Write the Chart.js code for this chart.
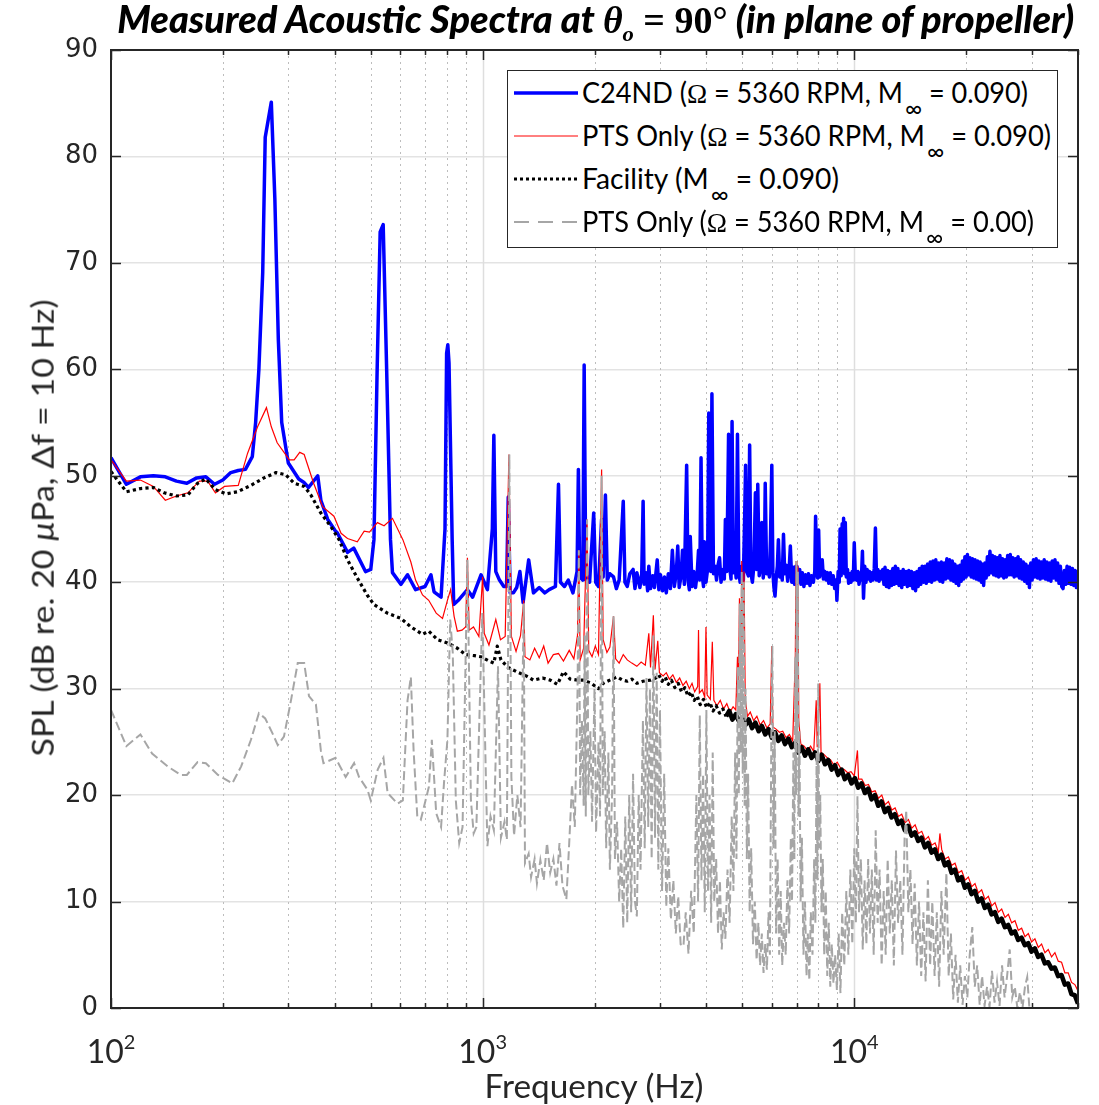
<!DOCTYPE html>
<html>
<head>
<meta charset="utf-8">
<title>Measured Acoustic Spectra</title>
<script src="https://cdn.jsdelivr.net/npm/chart.js@4.4.1/dist/chart.umd.min.js"></script>
<style>
  html, body { margin: 0; padding: 0; background: #fff; }
  #wrap { position: relative; width: 1099px; height: 1105px; overflow: hidden; background: #fff; }
  #chart { position: absolute; left: 0; top: 0; }
  .txt { position: absolute; white-space: nowrap; color: #262626; font-family: Lato, Carlito, "Open Sans", sans-serif; }
  #title { top: 1px; font-size: 37px; line-height: 36px; font-weight: 900; font-style: italic; color: #000; }
  #title .math { font-family: "Liberation Serif", "DejaVu Serif", serif; }
  #title .math i { font-weight: bold; }
  #title .math .eq { font-style: normal; font-weight: bold; }
  #title sub { font-size: 22px; line-height: 0; vertical-align: -8px; }
  #xlab { top: 1070px; font-size: 32px; line-height: 32px; }
  #ylab { font-size: 31px; line-height: 30px; }
  .xt { top: 1035px; font-size: 32px; line-height: 32px; }
  .xt sup { font-size: 20px; line-height: 0; vertical-align: 14px; }
  #legend { position: absolute; left: 507px; top: 70px; width: 551px; height: 178px; box-sizing: border-box;
            border: 1px solid #262626; background: #fff; }
  #legend svg { position: absolute; left: 0; top: 0; }
  #legend .lt { left: 74px; font-size: 28px; line-height: 28px; color: #000; }
  #legend .lt sub { font-size: 24px; line-height: 0; vertical-align: -14px; margin-left: 2px; }
  .om { font-family: "Liberation Serif", "DejaVu Serif", serif; }
</style>
</head>
<body>
<div id="wrap">
  <canvas id="chart" width="1099" height="1105" style="width:1099px;height:1105px"></canvas>
  <div id="title" class="txt">Measured Acoustic Spectra at <span class="math"><i>θ</i><sub><i>o</i></sub> <span class="eq">= 90°</span></span> (in plane of propeller)</div>
  <div id="ylab" class="txt">SPL (dB re. 20 <i>μ</i>Pa, Δf = 10 Hz)</div>
  <div id="xlab" class="txt">Frequency (Hz)</div>
  <div id="legend">
    <svg width="551" height="178">
      <line x1="6" y1="22" x2="70" y2="22" stroke="#0000ff" stroke-width="3.5"/>
      <line x1="6" y1="65" x2="70" y2="65" stroke="#ff0000" stroke-width="1"/>
      <line x1="6" y1="108" x2="70" y2="108" stroke="#000" stroke-width="3" stroke-dasharray="3 3"/>
      <line x1="6" y1="151" x2="70" y2="151" stroke="#a6a6a6" stroke-width="2" stroke-dasharray="15 9"/>
    </svg>
    <div class="txt lt" style="top:7px" data-w="446">C24ND (<span class="om">Ω</span> = 5360 RPM, M<sub>∞</sub> = 0.090)</div>
    <div class="txt lt" style="top:50px" data-w="469">PTS Only (<span class="om">Ω</span> = 5360 RPM, M<sub>∞</sub> = 0.090)</div>
    <div class="txt lt" style="top:93px" data-w="257">Facility (M<sub>∞</sub> = 0.090)</div>
    <div class="txt lt" style="top:136px" data-w="452">PTS Only (<span class="om">Ω</span> = 5360 RPM, M<sub>∞</sub> = 0.00)</div>
  </div>
</div>
<script>
// --- data (frequency in Hz, SPL in dB) ---

// C24ND (rotor + PTS), M = 0.090
const c24ndHz = [
  100, 110, 120, 130, 140, 150, 160, 170, 180, 190,
  200, 210, 220, 230, 240, 245, 250, 256, 260, 270,
  276, 282, 288, 300, 320, 330, 340, 360, 367, 383,
  400, 407, 433, 450, 484, 500, 510, 520, 530, 540,
  552, 565, 572, 603, 628, 660, 700, 726, 740, 773,
  792, 800, 806, 812, 828, 836, 860, 910, 940, 990,
  1030, 1062, 1072, 1085, 1110, 1140, 1160, 1172, 1186, 1210,
  1235, 1260, 1285, 1330, 1370, 1420, 1470, 1510, 1570, 1600,
  1620, 1660, 1700, 1750, 1795, 1810, 1825, 1860, 1876, 1895,
  1940, 1990, 2015, 2050, 2090, 2110, 2140, 2165, 2200, 2250,
  2290, 2330, 2390, 2415, 2450, 2490, 2540, 2570, 2600, 2650,
  2680, 2703, 2720, 2750, 2780, 2800, 2830, 2870, 2900, 2950,
  2980, 3010, 3050, 3085, 3120, 3160, 3200, 3240, 3280, 3320,
  3350, 3380, 3420, 3450, 3490, 3540, 3570, 3600, 3620, 3660,
  3700, 3740, 3780, 3810, 3840, 3870, 3900, 3930, 3950, 3990,
  4030, 4060, 4090, 4110, 4140, 4180, 4220, 4260, 4300, 4340,
  4380, 4430, 4470, 4500, 4540, 4590, 4620, 4660, 4690, 4730,
  4770, 4810, 4850, 4890, 4930, 4980, 5030, 5070, 5100, 5140,
  5190, 5230, 5270, 5320, 5370, 5420, 5460, 5500, 5550, 5600,
  5640, 5690, 5730, 5760, 5810, 5860, 5910, 5950, 6000, 6040,
  6080, 6120, 6170, 6210, 6250, 6300, 6350, 6400, 6450, 6500,
  6560, 6620, 6680, 6730, 6790, 6850, 6910, 6960, 7010, 7070,
  7130, 7190, 7250, 7320, 7390, 7460, 7530, 7600, 7680, 7760,
  7830, 7870, 7920, 7970, 8020, 8070, 8130, 8200, 8260, 8330,
  8400, 8470, 8540, 8620, 8700, 8780, 8860, 8940, 8980, 9050,
  9110, 9160, 9220, 9280, 9330, 9360, 9420, 9460, 9520, 9590,
  9660, 9730, 9800, 9870, 9940, 10000, 10070, 10150, 10230, 10300,
  10380, 10450, 10520, 10590, 10670, 10750, 10830, 10910, 10990, 11070,
  11150, 11230, 11320, 11400, 11480, 11570, 11660, 11750, 11840, 11930,
  12020, 12100, 12200, 12300, 12400, 12500, 12600, 12700, 12800, 12900,
  13000, 13100, 13200, 13300, 13420, 13540, 13660, 13780, 13900, 14020,
  14140, 14260, 14380, 14500, 14620, 14740, 14860, 14980, 15100, 15230,
  15360, 15490, 15620, 15750, 15880, 16010, 16150, 16290, 16430, 16570,
  16710, 16850, 17000, 17150, 17300, 17450, 17600, 17750, 17900, 18050,
  18200, 18350, 18500, 18650, 18800, 18950, 19100, 19250, 19400, 19550,
  19700, 19850, 20000, 20160, 20320, 20480, 20640, 20800, 20960, 21130,
  21300, 21470, 21640, 21810, 21980, 22150, 22290, 22460, 22640, 22820,
  23000, 23180, 23360, 23540, 23720, 23900, 24080, 24270, 24460, 24660,
  24860, 25060, 25260, 25460, 25660, 25870, 26080, 26290, 26500, 26710,
  26930, 27150, 27370, 27590, 27810, 28040, 28270, 28500, 28730, 28960,
  29200, 29440, 29600, 29850, 30100, 30350, 30600, 30860, 31120, 31380,
  31640, 31900, 32170, 32440, 32710, 32980, 33260, 33540, 33820, 34100,
  34390, 34680, 34970, 35260, 35560, 35860, 36160, 36460, 36760, 37070,
  37380, 37690, 38000, 38320, 38640, 38960, 39280, 39600, 39800, 40000
];
const c24ndDb = [
  51.7, 49.2, 49.9, 50.0, 49.9, 49.5, 49.3, 49.8, 49.9, 49.2,
  49.6, 50.3, 50.5, 50.6, 51.8, 55.0, 60.0, 69.1, 81.8, 85.1,
  76.0, 62.8, 55.0, 51.2, 49.7, 49.4, 48.9, 50.0, 47.7, 45.9,
  44.9, 44.6, 42.8, 43.2, 41.0, 41.2, 44.0, 59.7, 72.9, 73.6,
  59.7, 44.0, 40.9, 39.8, 40.7, 39.3, 39.6, 40.7, 39.1, 38.6,
  45.0, 61.5, 62.3, 60.6, 44.0, 37.9, 38.3, 39.3, 38.6, 40.7,
  39.3, 45.0, 53.8, 41.0, 40.2, 39.6, 39.6, 48.0, 39.0, 39.0,
  39.5, 41.0, 38.1, 42.1, 39.0, 39.5, 39.0, 39.3, 39.6, 49.2,
  40.0, 39.6, 40.2, 39.0, 41.0, 50.6, 40.5, 40.2, 60.4, 40.2,
  40.0, 46.5, 40.0, 39.6, 45.9, 40.5, 48.2, 40.2, 40.8, 40.5,
  39.4, 40.2, 47.6, 40.0, 39.6, 40.8, 41.2, 39.4, 40.9, 39.5,
  40.8, 47.6, 39.8, 40.9, 39.2, 41.5, 39.4, 40.6, 39.5, 42.1,
  39.3, 40.7, 39.2, 40.5, 39.0, 40.8, 39.4, 43.0, 39.6, 40.9,
  43.4, 39.5, 40.6, 43.0, 39.8, 51.0, 40.2, 39.3, 44.3, 39.6,
  41.0, 39.5, 40.9, 43.0, 40.2, 51.7, 40.6, 39.6, 43.8, 40.0,
  41.2, 55.9, 44.0, 41.0, 57.7, 40.8, 41.5, 40.2, 41.6, 42.3,
  40.0, 41.2, 40.3, 45.9, 41.0, 53.9, 41.5, 40.3, 55.1, 40.9,
  42.0, 40.4, 53.9, 41.0, 40.0, 41.5, 40.2, 46.0, 51.0, 41.0,
  40.6, 52.9, 40.9, 40.0, 41.6, 48.4, 41.2, 49.2, 40.6, 41.5,
  45.6, 40.4, 41.6, 49.3, 40.8, 41.8, 40.5, 44.0, 51.0, 40.9,
  39.5, 38.7, 40.6, 41.5, 44.0, 40.5, 41.3, 40.2, 44.5, 40.8,
  41.6, 40.1, 41.2, 43.4, 40.0, 41.4, 39.8, 41.5, 41.5, 40.0,
  41.2, 39.8, 40.9, 39.6, 40.7, 39.9, 40.8, 39.7, 40.6, 40.0,
  41.0, 46.2, 41.5, 40.4, 44.9, 40.5, 41.8, 42.1, 40.3, 41.0,
  40.2, 40.9, 39.9, 40.9, 39.8, 40.6, 39.4, 40.2, 38.3, 41.0,
  40.0, 45.0, 40.6, 45.5, 41.0, 46.0, 40.8, 45.6, 40.5, 41.2,
  39.9, 40.8, 40.0, 41.0, 40.2, 43.7, 40.4, 40.2, 41.0, 39.8,
  40.9, 40.2, 42.9, 38.5, 41.5, 40.0, 41.2, 40.3, 41.0, 40.1,
  40.9, 40.2, 41.3, 45.1, 40.2, 41.2, 40.1, 41.0, 40.3, 41.2,
  39.8, 41.4, 39.6, 41.1, 39.5, 41.0, 39.7, 41.3, 39.8, 41.5,
  39.9, 41.3, 39.7, 41.0, 39.5, 41.2, 39.8, 41.0, 39.6, 41.1,
  39.7, 41.0, 39.4, 40.9, 39.2, 41.0, 39.6, 41.3, 39.8, 41.5,
  40.0, 41.5, 39.9, 41.7, 40.1, 41.9, 40.0, 42.0, 40.2, 42.1,
  40.3, 41.8, 40.1, 41.9, 40.0, 41.8, 40.3, 42.2, 40.4, 42.1,
  40.2, 42.0, 40.1, 41.7, 39.9, 41.5, 39.7, 41.6, 40.1, 42.0,
  40.3, 42.4, 40.5, 42.6, 40.7, 42.3, 40.5, 42.2, 40.4, 42.1,
  40.3, 42.0, 40.2, 41.9, 40.0, 41.7, 39.7, 41.8, 40.4, 42.4,
  40.7, 42.9, 40.9, 42.5, 40.7, 42.4, 40.6, 42.3, 40.5, 42.5,
  40.6, 42.2, 40.4, 42.1, 40.5, 42.5, 40.7, 42.6, 40.7, 42.3,
  40.5, 42.2, 40.6, 42.4, 40.4, 42.1, 40.3, 41.9, 40.1, 41.7,
  39.9, 41.5, 39.5, 41.8, 40.2, 42.1, 40.5, 42.2, 40.4, 42.0,
  40.3, 41.9, 40.4, 42.1, 40.3, 41.9, 40.2, 41.8, 40.1, 42.0,
  40.4, 42.1, 40.2, 41.8, 39.9, 41.5, 39.6, 39.4, 41.1, 39.8,
  41.5, 39.9, 41.4, 39.8, 41.3, 39.7, 41.1, 39.5, 41.0, 40.3
];

// PTS only, M = 0.090
const ptsWindHz = [
  100, 110, 120, 130, 140, 150, 161, 173, 182, 191,
  202, 220, 233, 248, 262, 270, 280, 302, 311, 322,
  331, 351, 371, 398, 416, 433, 460, 480, 496, 521,
  543, 572, 610, 641, 660, 689, 716, 750, 780, 804,
  820, 838, 855, 880, 900, 910, 920, 945, 977, 1000,
  1010, 1040, 1085, 1117, 1150, 1177, 1195, 1230, 1265, 1290,
  1300, 1340, 1380, 1420, 1460, 1500, 1550, 1600, 1650, 1710,
  1760, 1800, 1815, 1830, 1870, 1910, 1930, 1970, 2010, 2050,
  2090, 2110, 2160, 2200, 2250, 2280, 2330, 2390, 2450, 2520,
  2600, 2670, 2740, 2800, 2830, 2880, 2910, 2960, 2990, 3060,
  3120, 3180, 3250, 3320, 3390, 3460, 3530, 3600, 3660, 3720,
  3790, 3810, 3830, 3900, 3960, 3990, 4020, 4100, 4150, 4190,
  4270, 4360, 4450, 4540, 4630, 4720, 4800, 4850, 4880, 4910,
  4950, 4980, 5010, 5050, 5090, 5160, 5250, 5360, 5470, 5580,
  5700, 5820, 5940, 6000, 6040, 6160, 6290, 6420, 6550, 6690,
  6830, 6940, 6975, 7010, 7050, 7090, 7180, 7330, 7480, 7630,
  7780, 7900, 7950, 8020, 8080, 8140, 8300, 8460, 8640, 8820,
  9000, 9200, 9400, 9600, 9800, 10000, 10200, 10270, 10480, 10700,
  10920, 11150, 11380, 11620, 11860, 12100, 12360, 12620, 12880, 13150,
  13420, 13700, 13990, 14280, 14580, 14880, 15190, 15510, 15830, 16160,
  16500, 16840, 17000, 17190, 17550, 17920, 18290, 18670, 19060, 19460,
  19870, 20280, 20700, 21130, 21570, 22020, 22480, 22950, 23430, 23920,
  24420, 24930, 25450, 25980, 26520, 27070, 27630, 28210, 28800, 29400,
  30010, 30630, 31270, 31920, 32590, 33270, 33960, 34670, 35390, 36130,
  36880, 37650, 38430, 39230, 40000
];
const ptsWindDb = [
  51.5, 49.5, 49.6, 49.0, 47.7, 48.1, 48.4, 49.5, 49.5, 48.4,
  49.0, 49.1, 52.1, 54.6, 56.4, 54.6, 53.1, 51.5, 51.5, 52.2,
  52.0, 49.3, 47.1, 46.2, 44.6, 44.1, 43.8, 44.8, 44.7, 45.6,
  45.3, 46.0, 44.0, 41.9, 40.2, 38.8, 38.3, 37.1, 36.6, 38.3,
  39.3, 36.8, 35.4, 35.5, 35.8, 42.3, 35.5, 35.8, 34.9, 40.5,
  35.2, 34.1, 36.5, 34.6, 34.9, 52.0, 34.9, 33.5, 35.0, 38.3,
  33.0, 32.7, 33.8, 32.9, 34.0, 32.4, 33.2, 33.3, 32.6, 33.6,
  32.8, 35.0, 43.0, 32.7, 33.8, 45.9, 33.6, 33.0, 34.0, 33.2,
  50.6, 34.6, 33.4, 33.9, 36.8, 32.8, 32.4, 33.2, 32.7, 32.4,
  32.1, 32.5, 32.2, 35.2, 32.0, 36.9, 31.8, 34.5, 31.5, 31.2,
  31.5, 30.9, 31.3, 30.6, 31.0, 30.3, 30.7, 30.0, 30.5, 29.7,
  30.2, 35.5, 29.6, 29.9, 29.2, 35.8, 29.4, 29.0, 34.4, 28.9,
  28.4, 28.9, 28.1, 28.6, 27.8, 28.3, 28.0, 33.0, 30.0, 38.5,
  31.0, 42.0, 34.0, 41.0, 29.0, 27.4, 27.8, 27.0, 27.4, 26.6,
  27.0, 26.3, 26.7, 34.0, 26.4, 26.2, 25.9, 26.0, 25.4, 25.7,
  25.1, 33.0, 42.0, 30.0, 41.5, 27.0, 24.8, 24.6, 24.2, 24.6,
  24.1, 28.9, 24.5, 27.5, 30.5, 24.0, 23.8, 23.5, 23.3, 22.8,
  23.1, 22.5, 22.4, 22.1, 22.2, 21.8, 24.2, 21.5, 21.5, 20.9,
  21.0, 20.3, 20.4, 19.7, 20.0, 19.1, 19.4, 18.6, 18.8, 18.0,
  18.2, 17.4, 17.7, 16.9, 17.2, 16.4, 16.6, 15.8, 16.1, 15.3,
  15.5, 14.7, 16.4, 14.9, 14.0, 14.2, 13.4, 13.6, 12.7, 12.9,
  12.0, 12.3, 11.4, 11.7, 10.8, 11.1, 10.2, 10.5, 9.6, 9.9,
  9.0, 9.3, 8.5, 8.8, 8.0, 8.2, 7.3, 7.5, 6.7, 7.0,
  6.2, 6.5, 5.7, 6.0, 5.2, 5.5, 4.8, 5.2, 4.4, 4.3,
  3.3, 3.3, 2.4, 2.2, 1.6
];

// Facility background, M = 0.090
const facilityHz = [
  100, 104, 110, 120, 130, 139, 150, 161, 171, 180,
  191, 204, 219, 238, 258, 278, 295, 311, 331, 345,
  367, 391, 411, 433, 460, 489, 510, 554, 603, 641,
  689, 716, 757, 804, 855, 900, 950, 988, 1040, 1072,
  1095, 1120, 1170, 1250, 1310, 1370, 1450, 1520, 1590, 1650,
  1720, 1800, 1870, 1960, 2050, 2110, 2165, 2230, 2300, 2380,
  2450, 2520, 2600, 2700, 2830, 2920, 2980, 3040, 3100, 3160,
  3220, 3290, 3360, 3430, 3500, 3570, 3640, 3710, 3780, 3850,
  3930, 4010, 4090, 4170, 4250, 4340, 4430, 4520, 4610, 4700,
  4800, 4900, 5000, 5100, 5200, 5310, 5420, 5530, 5640, 5760,
  5880, 6000, 6120, 6250, 6380, 6510, 6650, 6790, 6930, 7070,
  7220, 7370, 7520, 7680, 7840, 8000, 8170, 8340, 8510, 8690,
  8870, 9050, 9240, 9430, 9630, 9830, 10040, 10250, 10460, 10680,
  10900, 11130, 11360, 11600, 11840, 12090, 12340, 12600, 12860, 13130,
  13400, 13680, 13970, 14260, 14560, 14860, 15170, 15490, 15810, 16140,
  16480, 16820, 17170, 17530, 17900, 18270, 18650, 19040, 19440, 19850,
  20260, 20680, 21110, 21550, 22000, 22460, 22930, 23410, 23900, 24400,
  24910, 25430, 25960, 26500, 27050, 27610, 28190, 28780, 29380, 29990,
  30610, 31250, 31900, 32570, 33250, 33940, 34650, 35370, 36110, 36860,
  37630, 38410, 39210, 40000
];
const facilityDb = [
  50.4, 49.6, 48.5, 48.8, 48.9, 48.4, 48.1, 48.2, 49.3, 49.7,
  48.7, 48.3, 48.5, 49.1, 49.8, 50.3, 50.1, 49.3, 49.0, 48.2,
  46.5, 45.2, 44.0, 42.1, 40.4, 38.8, 37.9, 37.1, 36.6, 35.8,
  35.1, 35.4, 34.6, 34.3, 33.8, 33.2, 33.1, 33.0, 32.6, 32.4,
  34.0, 32.7, 32.0, 31.5, 31.2, 30.8, 31.0, 30.8, 30.4, 31.6,
  30.9, 30.8, 30.8, 30.5, 30.0, 30.5, 30.7, 30.9, 31.1, 30.8,
  30.7, 30.9, 30.5, 30.7, 30.8, 31.0, 31.3, 30.7, 31.1, 30.4,
  30.8, 30.1, 30.5, 29.7, 30.1, 29.3, 29.7, 28.9, 29.3, 28.5,
  29.0, 28.2, 28.7, 27.9, 28.4, 27.7, 28.1, 27.4, 27.9, 27.1,
  27.6, 26.9, 27.3, 26.6, 27.1, 26.3, 26.8, 26.0, 26.5, 25.7,
  26.2, 25.4, 25.9, 25.1, 25.6, 24.8, 25.3, 24.5, 24.9, 24.0,
  24.5, 23.7, 24.3, 23.5, 24.0, 23.2, 23.8, 22.9, 23.3, 22.4,
  22.8, 21.9, 22.4, 21.5, 21.9, 21.1, 21.6, 20.7, 21.1, 20.2,
  20.6, 19.6, 20.0, 19.0, 19.4, 18.4, 18.8, 17.9, 18.2, 17.3,
  17.6, 16.7, 17.1, 16.2, 16.5, 15.7, 16.0, 15.1, 15.5, 14.6,
  14.9, 14.0, 14.4, 13.4, 13.7, 12.7, 13.0, 12.0, 12.3, 11.3,
  11.6, 10.7, 11.0, 10.0, 10.3, 9.4, 9.7, 8.8, 9.0, 8.1,
  8.4, 7.6, 7.8, 7.0, 7.2, 6.4, 6.6, 5.9, 6.1, 5.3,
  5.6, 4.8, 5.0, 4.2, 4.3, 3.7, 3.8, 3.0, 3.1, 2.2,
  2.3, 1.3, 1.2, 0.4
];

// PTS only, M = 0.00 (static)
const ptsStaticHz = [
  100, 110, 120, 129, 142, 154, 160, 171, 180, 194,
  212, 224, 238, 250, 260, 272, 281, 292, 305, 318,
  331, 341, 356, 367, 373, 402, 428, 451, 465, 490,
  500, 522, 541, 555, 590, 610, 628, 641, 652, 667,
  682, 717, 730, 750, 773, 787, 804, 818, 831, 847,
  865, 883, 910, 930, 946, 962, 998, 1030, 1050, 1072,
  1100, 1120, 1145, 1162, 1180, 1195, 1215, 1240, 1265, 1290,
  1300, 1330, 1350, 1380, 1400, 1430, 1460, 1490, 1520, 1550,
  1580, 1610, 1640, 1680, 1710, 1740, 1770, 1800, 1815, 1830,
  1850, 1870, 1880, 1895, 1910, 1925, 1950, 1970, 2000, 2020,
  2050, 2070, 2090, 2105, 2130, 2150, 2180, 2200, 2230, 2250,
  2270, 2300, 2330, 2360, 2390, 2420, 2450, 2480, 2510, 2540,
  2570, 2600, 2630, 2660, 2700, 2730, 2760, 2790, 2820, 2850,
  2880, 2910, 2940, 2970, 3000, 3040, 3080, 3120, 3160, 3210,
  3260, 3310, 3360, 3410, 3470, 3520, 3580, 3640, 3700, 3760,
  3800, 3840, 3880, 3920, 3960, 4000, 4040, 4080, 4120, 4160,
  4200, 4250, 4300, 4350, 4400, 4450, 4500, 4560, 4620, 4680,
  4730, 4780, 4820, 4860, 4890, 4920, 4950, 4980, 5010, 5040,
  5070, 5100, 5140, 5180, 5230, 5280, 5340, 5400, 5460, 5520,
  5580, 5640, 5700, 5760, 5820, 5880, 5930, 5980, 6020, 6060,
  6110, 6160, 6220, 6280, 6340, 6400, 6470, 6540, 6610, 6680,
  6750, 6800, 6860, 6900, 6940, 6970, 6990, 7020, 7050, 7080,
  7120, 7170, 7230, 7300, 7370, 7440, 7500, 7570, 7640, 7720,
  7800, 7860, 7920, 7960, 8000, 8050, 8100, 8160, 8230, 8300,
  8380, 8460, 8540, 8620, 8700, 8790, 8880, 8980, 9080, 9180,
  9280, 9400, 9520, 9640, 9760, 9880, 10000, 10100, 10200, 10300,
  10420, 10540, 10660, 10780, 10900, 11020, 11150, 11280, 11420, 11560,
  11700, 11850, 12000, 12150, 12300, 12460, 12620, 12780, 12950, 13120,
  13300, 13480, 13660, 13800, 13980, 14160, 14350, 14540, 14740, 14940,
  15140, 15350, 15560, 15780, 16000, 16220, 16450, 16680, 16920, 17160,
  17400, 17700, 17950, 18200, 18460, 18730, 19000, 19280, 19560, 19850,
  20150, 20450, 20780, 21100, 21420, 21750, 22080, 22420, 22770, 23120,
  23480, 23850, 24220, 24600, 24990, 25380, 25780, 26200, 26620, 27040,
  27470, 27910, 28360, 28800, 29200, 29600, 30000
];
const ptsStaticDb = [
  28.0, 24.6, 25.7, 23.9, 22.7, 21.9, 21.9, 23.1, 23.0, 21.9,
  21.1, 22.7, 25.2, 27.7, 27.2, 25.8, 24.7, 25.5, 28.9, 32.4,
  32.4, 29.3, 28.5, 24.2, 23.0, 23.5, 21.7, 23.0, 21.7, 20.5,
  19.5, 22.4, 23.5, 20.2, 19.2, 19.5, 28.9, 31.1, 24.2, 18.0,
  17.7, 20.8, 25.2, 18.3, 17.0, 21.1, 25.2, 36.5, 33.4, 19.5,
  15.5, 17.0, 42.1, 19.5, 16.4, 17.0, 37.1, 15.2, 18.0, 16.7,
  32.1, 16.0, 17.5, 15.8, 52.0, 21.7, 16.2, 20.0, 17.0, 38.0,
  13.6, 14.5, 12.3, 14.0, 11.7, 13.9, 12.0, 15.5, 12.7, 14.0,
  11.5, 15.5, 11.5, 10.2, 15.5, 21.0, 17.0, 29.6, 43.0, 20.0,
  27.0, 19.0, 35.0, 18.0, 45.9, 20.0, 26.0, 17.5, 30.0, 16.5,
  25.0, 18.0, 50.0, 20.0, 26.0, 15.0, 24.0, 13.0, 20.0, 36.8,
  14.0, 17.5, 10.0, 15.0, 7.5, 18.0, 8.0, 20.0, 9.0, 22.0,
  10.0, 8.6, 20.0, 13.0, 27.0, 15.0, 31.0, 17.0, 30.0, 14.0,
  35.0, 16.0, 31.5, 13.0, 28.0, 11.0, 22.0, 9.5, 15.0, 8.3,
  12.0, 7.0, 10.5, 6.0, 5.8, 9.0, 5.1, 11.0, 7.0, 20.0,
  10.0, 27.5, 12.0, 22.0, 9.0, 28.0, 11.0, 20.0, 8.0, 24.0,
  10.0, 14.0, 7.0, 12.0, 5.5, 9.0, 6.5, 13.0, 8.0, 18.0,
  11.0, 24.0, 14.0, 32.0, 20.0, 38.0, 24.0, 41.0, 22.0, 40.0,
  19.0, 30.0, 14.0, 22.0, 9.0, 15.0, 6.0, 10.0, 4.5, 8.0,
  4.0, 7.0, 3.3, 6.0, 3.6, 9.0, 5.0, 25.0, 34.0, 15.0,
  26.0, 7.0, 14.0, 5.0, 11.0, 4.0, 8.0, 5.0, 12.0, 7.0,
  16.0, 10.0, 24.0, 14.0, 33.0, 20.0, 42.0, 25.0, 41.0, 18.0,
  26.0, 10.0, 16.0, 5.0, 10.0, 3.0, 7.0, 2.6, 9.0, 5.0,
  14.0, 8.0, 24.0, 12.0, 30.5, 15.0, 20.0, 9.0, 14.0, 5.0,
  11.0, 3.0, 8.0, 2.0, 6.0, 2.3, 5.0, 1.7, 7.0, 1.4,
  9.0, 4.0, 11.0, 5.0, 13.0, 6.0, 15.0, 8.0, 19.9, 9.0,
  14.0, 5.5, 12.0, 6.0, 14.0, 7.0, 13.0, 5.0, 16.7, 8.0,
  13.0, 4.0, 11.0, 5.0, 14.0, 7.0, 12.0, 4.0, 14.8, 8.0,
  12.0, 5.0, 16.0, 18.6, 9.0, 13.0, 6.0, 11.7, 4.0, 10.0,
  3.0, 9.0, 2.5, 12.0, 4.0, 10.0, 3.0, 9.0, 2.0, 11.0,
  5.0, 12.7, 3.0, 7.0, 0.8, 5.0, 0.5, 4.0, 0.3, 3.0,
  1.0, 5.0, 7.6, 2.0, 4.0, 0.3, 3.0, 0.2, 2.0, 0.1,
  3.5, 0.5, 2.5, 0.2, 4.0, 1.0, 3.0, 5.5, 1.0, 2.0,
  0.0, 1.5, 0.0, 2.0, 2.9, 0.0, -2.0
];

// axes
const yTicks = [0, 10, 20, 30, 40, 50, 60, 70, 80, 90];
const xTickValues = [100, 1000, 10000];
const xTickExponents = ['2', '3', '4'];
const xMin = 100, xMax = 40000;
// above this frequency the facility trace is so dense that it reads as a solid band
const facilitySolidFrom = 4500;

function toPoints(hz, db) {
  return hz.map((f, i) => ({ x: f, y: db[i] }));
}

// MATLAB-like box: decade grid solid, minor grid dotted, inward ticks on all sides
const matlabAxes = {
  id: 'matlabAxes',
  beforeDatasetsDraw(chart) {
    const { ctx, chartArea: a, scales: { x } } = chart;
    ctx.save();
    for (let e = 2; e <= 4; e++) {
      for (let k = 1; k <= 9; k++) {
        const f = k * Math.pow(10, e);
        if (f <= xMin || f >= xMax) continue;
        const px = Math.round(x.getPixelForValue(f)) + 0.5;
        ctx.beginPath();
        if (k === 1) {
          ctx.setLineDash([]);
          ctx.strokeStyle = '#dedede';
          ctx.lineWidth = 1.5;
        } else {
          ctx.setLineDash([2, 4]);
          ctx.strokeStyle = '#bdbdbd';
          ctx.lineWidth = 1;
        }
        ctx.moveTo(px, a.top);
        ctx.lineTo(px, a.bottom);
        ctx.stroke();
      }
    }
    ctx.restore();
  },
  afterDatasetsDraw(chart) {
    const { ctx, chartArea: a, scales: { x, y } } = chart;
    ctx.save();
    ctx.strokeStyle = '#262626';
    ctx.lineWidth = 2;
    ctx.setLineDash([]);
    ctx.strokeRect(a.left, a.top, a.right - a.left, a.bottom - a.top);
    ctx.lineWidth = 1.5;
    ctx.beginPath();
    yTicks.forEach((v) => {
      const py = Math.round(y.getPixelForValue(v)) + 0.5;
      ctx.moveTo(a.left, py); ctx.lineTo(a.left + 10, py);
      ctx.moveTo(a.right, py); ctx.lineTo(a.right - 10, py);
    });
    for (let e = 2; e <= 4; e++) {
      for (let k = 1; k <= 9; k++) {
        const f = k * Math.pow(10, e);
        if (f < xMin || f > xMax) continue;
        const px = Math.round(x.getPixelForValue(f)) + 0.5;
        const len = k === 1 ? 10 : 5;
        ctx.moveTo(px, a.bottom); ctx.lineTo(px, a.bottom - len);
        ctx.moveTo(px, a.top); ctx.lineTo(px, a.top + len);
      }
    }
    ctx.stroke();
    ctx.restore();
  }
};

const chart = new Chart(document.getElementById('chart'), {
  type: 'line',
  data: {
    datasets: [
      {
        label: 'C24ND (Ω = 5360 RPM, M∞ = 0.090)',
        data: toPoints(c24ndHz, c24ndDb),
        borderColor: '#0000ff', borderWidth: 3.5, borderJoinStyle: 'round', order: 3, clip: 0,
      },
      {
        label: 'PTS Only (Ω = 5360 RPM, M∞ = 0.090)',
        data: toPoints(ptsWindHz, ptsWindDb),
        borderColor: '#ff0000', borderWidth: 1.2, order: 2, clip: 0,
      },
      {
        label: 'Facility (M∞ = 0.090)',
        data: toPoints(facilityHz, facilityDb),
        borderColor: '#000000', borderWidth: 3.2, borderDash: [3.2, 3.2], order: 1, clip: 0,
        borderJoinStyle: 'round',
        segment: {
          borderDash: (ctx) => (ctx.p0.parsed.x >= facilitySolidFrom ? [] : undefined),
          borderWidth: (ctx) => (ctx.p0.parsed.x >= facilitySolidFrom ? 4.6 : undefined),
        },
      },
      {
        label: 'PTS Only (Ω = 5360 RPM, M∞ = 0.00)',
        data: toPoints(ptsStaticHz, ptsStaticDb),
        borderColor: '#a6a6a6', borderWidth: 2, borderDash: [9, 4], order: 0, clip: 0,
      },
    ],
  },
  options: {
    responsive: false,
    animation: false,
    devicePixelRatio: 1,
    events: [],
    layout: { padding: { left: 0, top: 50, right: 21, bottom: 0 } },
    plugins: { legend: { display: false }, tooltip: { enabled: false } },
    elements: { point: { radius: 0 }, line: { tension: 0, fill: false } },
    scales: {
      x: {
        type: 'logarithmic', min: xMin, max: xMax, bounds: 'data',
        grid: { display: false }, border: { display: false },
        ticks: { display: false },
        afterFit: (s) => { s.height = 97; },
      },
      y: {
        type: 'linear', min: 0, max: 90,
        ticks: { stepSize: 10, color: '#262626', padding: 13, font: { family: 'DejaVu Sans', size: 26 } },
        grid: { color: '#e3e3e3', lineWidth: 1.5, drawTicks: false },
        border: { display: false },
        afterFit: (s) => { s.width = 111; },
      },
    },
  },
  plugins: [matlabAxes],
});

// --- text placement (scale text to the reference widths) ---
const wrap = document.getElementById('wrap');

function fitCentered(el, w, cx) {
  const cur = el.getBoundingClientRect().width;
  el.style.left = (cx - cur / 2) + 'px';
  el.style.transformOrigin = '50% 50%';
  el.style.transform = `scaleX(${w / cur})`;
}

fitCentered(document.getElementById('title'), 957, 596);
fitCentered(document.getElementById('xlab'), 219, 594);

document.querySelectorAll('#legend .lt').forEach((el) => {
  const cur = el.getBoundingClientRect().width;
  el.style.transformOrigin = '0 50%';
  el.style.transform = `scaleX(${Number(el.dataset.w) / cur})`;
});

(function placeYLabel() {
  const el = document.getElementById('ylab');
  const r = el.getBoundingClientRect();
  el.style.left = (42 - r.width / 2) + 'px';
  el.style.top = (528 - r.height / 2) + 'px';
  el.style.transformOrigin = '50% 50%';
  el.style.transform = `rotate(-90deg) scaleX(${457 / r.width})`;
})();

xTickValues.forEach((v, i) => {
  const d = document.createElement('div');
  d.className = 'txt xt';
  d.innerHTML = '10<sup>' + xTickExponents[i] + '</sup>';
  wrap.appendChild(d);
  const w = d.getBoundingClientRect().width;
  d.style.left = (chart.scales.x.getPixelForValue(v) - w / 2) + 'px';
});
</script>
</body>
</html>
